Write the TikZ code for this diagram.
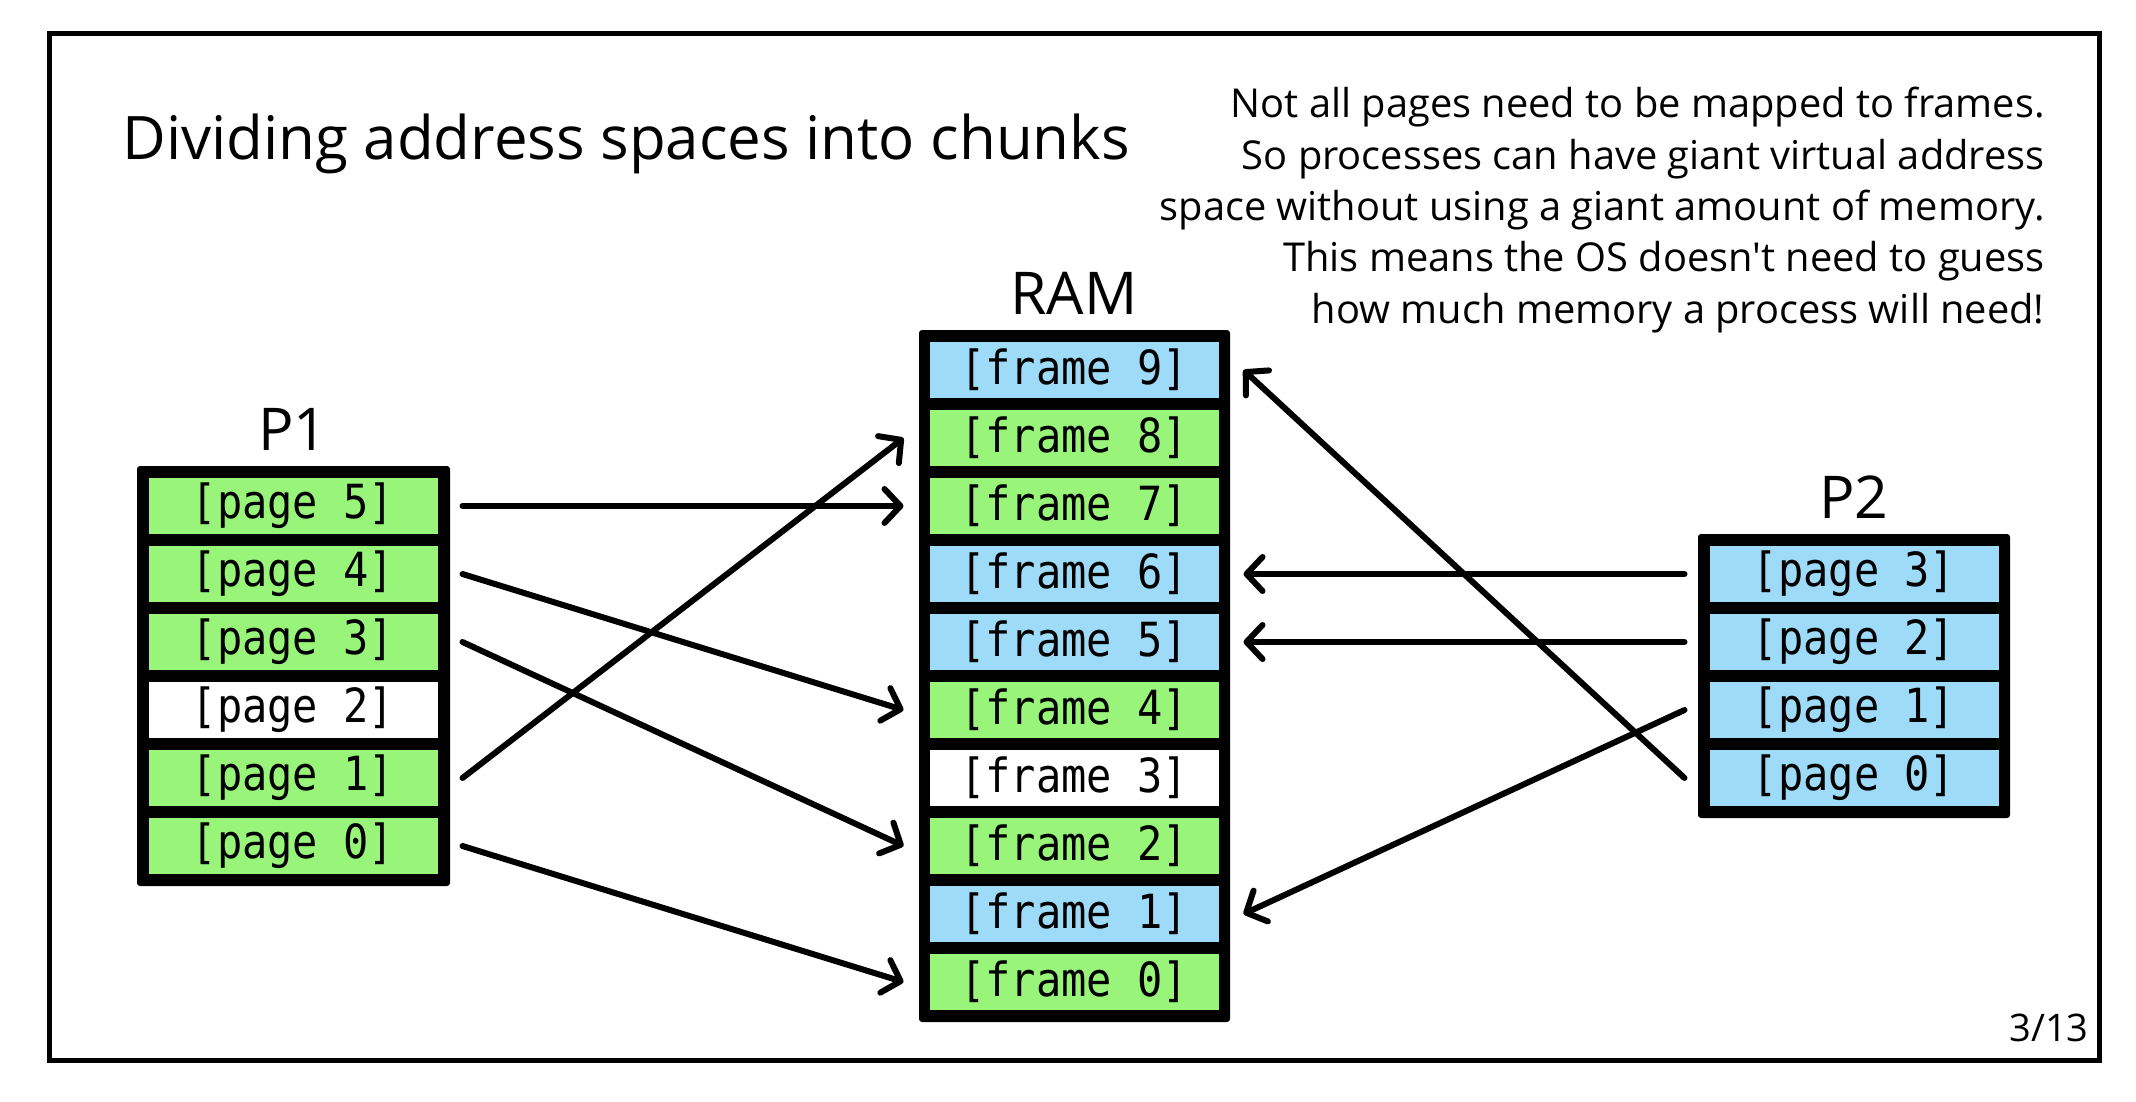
\documentclass[tikz,border=0pt]{standalone}
\usepackage{fontspec}
\usepackage{graphicx}
\setmainfont{Open Sans}[Ligatures=TeXOff]
\newfontfamily\cellfont{DejaVu Sans Mono}
\usetikzlibrary{arrows.meta}
\definecolor{cellgreen}{RGB}{153,245,122}
\definecolor{cellblue}{RGB}{158,219,249}
\newcommand{\celltext}[1]{\scalebox{1}[1.12]{\fontsize{21pt}{22pt}\cellfont #1}}

\begin{document}
\begin{tikzpicture}[x=0.5pt,y=-0.5pt,
  cellbox/.style={minimum width=144.5pt, minimum height=28pt, inner sep=0pt, outer sep=0pt, anchor=center},
  gcell/.style={cellbox, fill=cellgreen},
  bcell/.style={cellbox, fill=cellblue},
  wcell/.style={cellbox, fill=white},
  stackframe/.style={fill=black, rounded corners=1.5pt},
  heading/.style={font=\fontsize{29.5pt}{32pt}\selectfont, inner sep=0pt, anchor=base},
  note/.style={font=\fontsize{19.9pt}{24pt}\selectfont, inner sep=0pt, anchor=base east},
  maparrow/.style={line width=3pt, line cap=round, -{Straight Barb[length=8pt,width=17pt,round]}}
]
\useasboundingbox (0,0) rectangle (2136,1102);
\fill[white] (0,0) rectangle (2136,1102);
\draw[line width=2.5pt] (49,34) rectangle (2099,1060);

% title and note
\node[font=\fontsize{30pt}{36pt}\selectfont, inner sep=0pt, anchor=base west] (title) at (122,159) {Dividing address spaces into chunks};
\node[note] (n1) at (2045,118) {Not all pages need to be mapped to frames.};
\node[note] (n2) at (2045,169.3) {So processes can have giant virtual address};
\node[note] (n3) at (2045,220.6) {space without using a giant amount of memory.};
\node[note] (n4) at (2045,271.9) {This means the OS doesn't need to guess};
\node[note] (n5) at (2045,323.2) {how much memory a process will need!};
\node[font=\fontsize{19pt}{22pt}\selectfont, inner sep=0pt, anchor=base east] (pagenum) at (2089,1041) {3/13};

% stack frames
\fill[stackframe] (137,466) rectangle (450,886);
\fill[stackframe] (919,330) rectangle (1230,1022);
\fill[stackframe] (1698,534) rectangle (2010,818);

% labels
\node[heading] (p1label) at (293,450) {P1};
\node[heading] (ramlabel) at (1074,314.5) {RAM};
\node[heading] (p2label) at (1854,518) {P2};

% P1 pages
\node[gcell] (a5) at (293,506) {\celltext{[page 5]}};
\node[gcell] (a4) at (293,574) {\celltext{[page 4]}};
\node[gcell] (a3) at (293,642) {\celltext{[page 3]}};
\node[wcell] (a2) at (293,710) {\celltext{[page 2]}};
\node[gcell] (a1) at (293,778) {\celltext{[page 1]}};
\node[gcell] (a0) at (293,846) {\celltext{[page 0]}};

% RAM frames
\node[bcell] (f9) at (1074,370) {\celltext{[frame 9]}};
\node[gcell] (f8) at (1074,438) {\celltext{[frame 8]}};
\node[gcell] (f7) at (1074,506) {\celltext{[frame 7]}};
\node[bcell] (f6) at (1074,574) {\celltext{[frame 6]}};
\node[bcell] (f5) at (1074,642) {\celltext{[frame 5]}};
\node[gcell] (f4) at (1074,710) {\celltext{[frame 4]}};
\node[wcell] (f3) at (1074,778) {\celltext{[frame 3]}};
\node[gcell] (f2) at (1074,846) {\celltext{[frame 2]}};
\node[bcell] (f1) at (1074,914) {\celltext{[frame 1]}};
\node[gcell] (f0) at (1074,982) {\celltext{[frame 0]}};

% P2 pages
\node[bcell] (b3) at (1854,574) {\celltext{[page 3]}};
\node[bcell] (b2) at (1854,642) {\celltext{[page 2]}};
\node[bcell] (b1) at (1854,710) {\celltext{[page 1]}};
\node[bcell] (b0) at (1854,778) {\celltext{[page 0]}};

% mappings P1
\draw[maparrow] ([xshift=12.5pt]a5.east) -- ([xshift=-13pt]f7.west);
\draw[maparrow] ([xshift=12.5pt]a4.east) -- ([xshift=-13pt]f4.west);
\draw[maparrow] ([xshift=12.5pt]a3.east) -- ([xshift=-13pt]f2.west);
\draw[maparrow] ([xshift=12.5pt]a1.east) -- ([xshift=-13pt]f8.west);
\draw[maparrow] ([xshift=12.5pt]a0.east) -- ([xshift=-13pt]f0.west);

% mappings P2
\draw[maparrow] ([xshift=-12.5pt]b3.west) -- ([xshift=12.5pt]f6.east);
\draw[maparrow] ([xshift=-12.5pt]b2.west) -- ([xshift=12.5pt]f5.east);
\draw[maparrow] ([xshift=-12.5pt]b1.west) -- ([xshift=12.5pt]f1.east);
\draw[maparrow] ([xshift=-12.5pt]b0.west) -- ([xshift=12.5pt]f9.east);
\end{tikzpicture}
\end{document}
